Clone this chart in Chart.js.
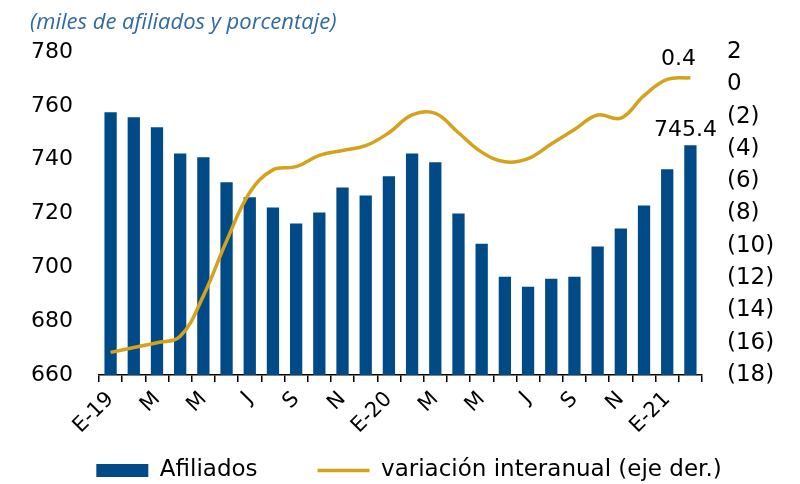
<!DOCTYPE html>
<html>
<head>
<meta charset="utf-8">
<script src="https://cdn.jsdelivr.net/npm/chart.js@4/dist/chart.umd.min.js"></script>
<style>
  html, body { margin: 0; padding: 0; background: #fff; }
  #wrap { position: relative; width: 800px; height: 484px; }
  #titulo {
    position: absolute; left: 30px; top: 5px;
    font-family: "Open Sans", sans-serif; font-style: italic; font-size: 22px;
    color: #2f6aa3; white-space: nowrap;
  }
</style>
</head>
<body>
<div id="wrap">
  <div id="titulo">(miles de afiliados y porcentaje)</div>
  <canvas id="afiChart" width="800" height="484"></canvas>
</div>
<script>
// months from Jan-19 to Feb-21
var months = ["E-19","F","M","A","M","J","J","A","S","O","N","D",
              "E-20","F","M","A","M","J","J","A","S","O","N","D",
              "E-21","F"];

// afiliados (miles)
var afiliados = [757.6, 755.8, 752.0, 742.3, 740.9, 731.6, 726.0, 722.2, 716.3, 720.4, 729.7, 726.7,
                 733.8, 742.3, 739.0, 720.0, 708.8, 696.5, 692.8, 695.8, 696.5, 707.7, 714.4, 723.0,
                 736.4, 745.4];

// variacion interanual (%), eje derecho
var variacion = [-16.6, -16.3, -16.0, -15.6, -13.1, -9.7, -6.7, -5.3, -5.1, -4.4, -4.1, -3.8,
                 -3.0, -1.9, -1.8, -3.0, -4.2, -4.8, -4.6, -3.7, -2.8, -1.9, -2.1, -0.7,
                 0.3, 0.4];

var barColor  = "#004a87";
var lineColor = "#d6a21a";

// labels for the last bar and the last point
var endLabels = {
  id: 'endLabels',
  afterLayout: function(chart) {
    // x box is kept short so the legend sits close; let its labels draw below it
    chart.scales.x.bottom = chart.height;
  },
  afterDatasetsDraw: function(chart) {
    var ctx = chart.ctx;
    ctx.save();
    ctx.fillStyle = "#000";
    ctx.font = "22px 'DejaVu Sans'";
    ctx.textAlign = "center";
    ctx.textBaseline = "bottom";
    var bars = chart.getDatasetMeta(0).data;
    var lastBar = bars[bars.length - 1];
    ctx.fillText(afiliados[afiliados.length - 1].toFixed(1), lastBar.x - 5, lastBar.y - 4);
    var pts = chart.getDatasetMeta(1).data;
    var lastPt = pts[pts.length - 1];
    ctx.fillText(variacion[variacion.length - 1].toFixed(1), lastPt.x - 12, lastPt.y - 8);
    ctx.restore();
  }
};

var ctx = document.getElementById("afiChart");
var afiChart = new Chart(ctx, {
  type: 'bar',
  data: {
    labels: months,
    datasets: [
      {
        label: "Afiliados",
        data: afiliados,
        backgroundColor: barColor,
        borderWidth: 0,
        barPercentage: 0.53,
        categoryPercentage: 1,
        yAxisID: 'y',
        order: 2,
        pointStyle: 'rect'
      },
      {
        type: 'line',
        label: "variación interanual (eje der.)",
        data: variacion,
        borderColor: lineColor,
        backgroundColor: lineColor,
        borderWidth: 3.5,
        tension: 0.4,
        pointRadius: 0,
        yAxisID: 'y2',
        order: 1,
        pointStyle: 'line'
      }
    ]
  },
  options: {
    responsive: false,
    animation: false,
    layout: { padding: { left: 22, right: 4, top: 52, bottom: -8 } },
    plugins: {
      legend: {
        position: 'bottom',
        labels: {
          usePointStyle: true,
          pointStyleWidth: 52,
          boxHeight: 13,
          padding: 60,
          color: "#000",
          font: { family: "DejaVu Sans", size: 23 },
          sort: function(a, b) { return a.datasetIndex - b.datasetIndex; }
        }
      },
      tooltip: { enabled: false }
    },
    scales: {
      x: {
        afterFit: function(scale) { scale.height = 24; },
        grid: {
          offset: true,
          drawOnChartArea: false,
          drawTicks: true,
          tickLength: 7,
          color: "#000",
          lineWidth: 1.5
        },
        border: { display: true, color: "#000", width: 1.5 },
        ticks: {
          autoSkip: false,
          minRotation: 45,
          maxRotation: 45,
          color: "#000",
          padding: 5,
          font: { family: "DejaVu Sans", size: 21 },
          callback: function(v, i) { return i % 2 == 0 ? months[i] : ''; }
        }
      },
      y: {
        position: 'left',
        min: 660,
        max: 780,
        afterFit: function(scale) { scale.width = 77; },
        grid: { display: false, drawTicks: false },
        border: { display: false },
        ticks: {
          autoSkip: false,
          stepSize: 20,
          padding: 26,
          color: "#000",
          font: { family: "DejaVu Sans", size: 22 }
        }
      },
      y2: {
        position: 'right',
        min: -18,
        max: 2,
        afterFit: function(scale) { scale.width = 94; },
        grid: { display: false, drawTicks: false },
        border: { display: false },
        ticks: {
          autoSkip: false,
          stepSize: 2,
          padding: 25,
          color: "#000",
          font: { family: "DejaVu Sans", size: 23 },
          callback: function(v) { return v < 0 ? '(' + (-v) + ')' : '' + v; }
        }
      }
    }
  },
  plugins: [endLabels]
});
</script>
</body>
</html>
